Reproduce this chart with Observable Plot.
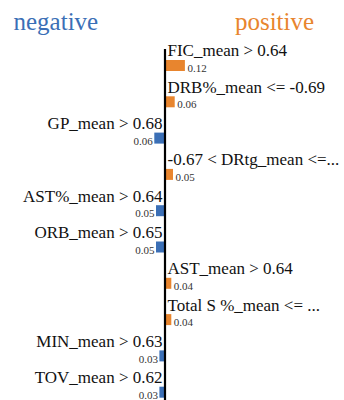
<!DOCTYPE html>
<html>
<head>
<meta charset="utf-8">
<script src="https://cdn.jsdelivr.net/npm/d3@7"></script>
<script src="https://cdn.jsdelivr.net/npm/@observablehq/plot@0.6"></script>
<style>
  html, body { margin: 0; padding: 0; background: #fff; }
  svg text { font-family: "Liberation Serif", "Times New Roman", serif; }
</style>
</head>
<body>
<div id="chart"></div>
<script>
const features = [
  "FIC_mean > 0.64",
  "DRB%_mean <= -0.69",
  "GP_mean > 0.68",
  "-0.67 < DRtg_mean <=...",
  "AST%_mean > 0.64",
  "ORB_mean > 0.65",
  "AST_mean > 0.64",
  "Total S %_mean <= ...",
  "MIN_mean > 0.63",
  "TOV_mean > 0.62"
];
const weights = [0.12, 0.06, 0.06, 0.05, 0.05, 0.05, 0.04, 0.04, 0.03, 0.03];
const signs = ["positive", "positive", "negative", "positive", "negative", "negative", "positive", "positive", "negative", "negative"];
const valueLabels = ["0.12", "0.06", "0.06", "0.05", "0.05", "0.05", "0.04", "0.04", "0.03", "0.03"];
const titles = ["negative", "positive"];

const ORANGE = "#e8852e";
const BLUE = "#3b6fb6";
const SERIF = "'Liberation Serif', 'Times New Roman', serif";

const data = features.map((f, i) => ({
  feature: f,
  value: signs[i] === "positive" ? weights[i] : -weights[i],
  sign: signs[i],
  label: valueLabels[i]
}));
const pos = data.filter(d => d.sign === "positive");
const neg = data.filter(d => d.sign === "negative");

const step = 36.3;
const chart = Plot.plot({
  width: 344,
  height: 400,
  margin: 0,
  style: { fontFamily: SERIF, background: "#fff" },
  x: { domain: [-164.5 / 170, (344 - 164.5) / 170], axis: null },
  y: { type: "band", domain: features, range: [40, 40 + step * features.length], padding: 0, round: false, axis: null },
  color: { domain: ["negative", "positive"], range: [BLUE, ORANGE] },
  marks: [
    Plot.barX(data, { x: "value", y: "feature", fill: "sign", insetTop: 20, insetBottom: step - 31 }),
    Plot.ruleX([0], { stroke: "#000", strokeWidth: 2.2, insetTop: 49 }),
    Plot.text(pos, { x: 0, y: "feature", text: "feature", textAnchor: "start", lineAnchor: "bottom", dx: 2.5, dy: -2.2, fontSize: 17, fontFamily: SERIF, fill: "#111" }),
    Plot.text(neg, { x: 0, y: "feature", text: "feature", textAnchor: "end", lineAnchor: "bottom", dx: -2.5, dy: -2.2, fontSize: 17, fontFamily: SERIF, fill: "#111" }),
    Plot.text(pos, { x: "value", y: "feature", text: "label", textAnchor: "start", lineAnchor: "bottom", dx: 2, dy: 13.5, fontSize: 11, fontFamily: SERIF, fill: "#333" }),
    Plot.text(neg, { x: "value", y: "feature", text: "label", textAnchor: "end", lineAnchor: "bottom", dx: -2, dy: 13.5, fontSize: 11, fontFamily: SERIF, fill: "#333" }),
    Plot.text([titles[0]], { frameAnchor: "top-left", textAnchor: "start", lineAnchor: "bottom", dx: 13, dy: 29, fontSize: 25, fontFamily: SERIF, fill: BLUE }),
    Plot.text([titles[1]], { frameAnchor: "top-left", textAnchor: "middle", lineAnchor: "bottom", dx: 274, dy: 29, fontSize: 25, fontFamily: SERIF, fill: ORANGE })
  ]
});
document.getElementById("chart").appendChild(chart);
</script>
</body>
</html>
